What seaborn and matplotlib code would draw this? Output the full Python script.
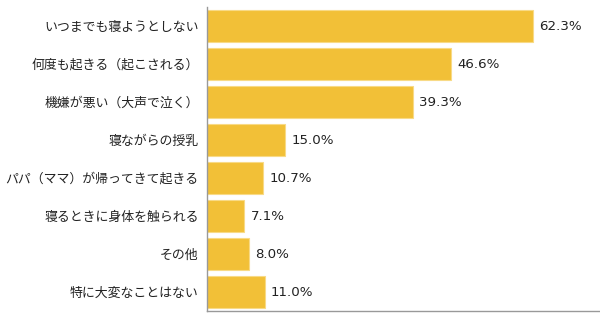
import matplotlib
matplotlib.use("Agg")
import matplotlib.pyplot as plt
import seaborn as sns
import pandas as pd

categories = ["いつまでも寝ようとしない", "何度も起きる（起こされる）", "機嫌が悪い（大声で泣く）",
              "寝ながらの授乳", "パパ（ママ）が帰ってきて起きる", "寝るときに身体を触られる",
              "その他", "特に大変なことはない"]
values = [62.3, 46.6, 39.3, 15.0, 10.7, 7.1, 8.0, 11.0]

sns.set_theme(style="white")
plt.rcParams['font.family'] = ['Noto Sans CJK JP', 'DejaVu Sans']

df = pd.DataFrame({"cat": categories, "val": values})
fig = plt.figure(figsize=(6, 3.22), dpi=100)
ax = fig.add_axes([207/600, 1 - 311/322, 393/600, 304/322])
sns.barplot(data=df, y="cat", x="val", ax=ax, color="#F2C037", saturation=1,
            width=0.86, edgecolor="#F8DA86", linewidth=0.8)
ax.set_xlim(0, 75.1)
ax.set_ylim(7.5, -0.5)
ax.set_xlabel("")
ax.set_ylabel("")
ax.set_xticks([])
for s in ["top", "right"]:
    ax.spines[s].set_visible(False)
for s in ["left", "bottom"]:
    ax.spines[s].set_color("#999999")
    ax.spines[s].set_linewidth(1)
ax.tick_params(axis="y", length=0, pad=6, labelsize=9.3, labelcolor="#222222")
for i, v in enumerate(values):
    ax.text(v + 1.2, i, f"{v:.1f}%", va="center", ha="left", fontsize=9.6, color="#222222",
            family=['DejaVu Sans'])
fig.savefig("out.png", dpi=100)
